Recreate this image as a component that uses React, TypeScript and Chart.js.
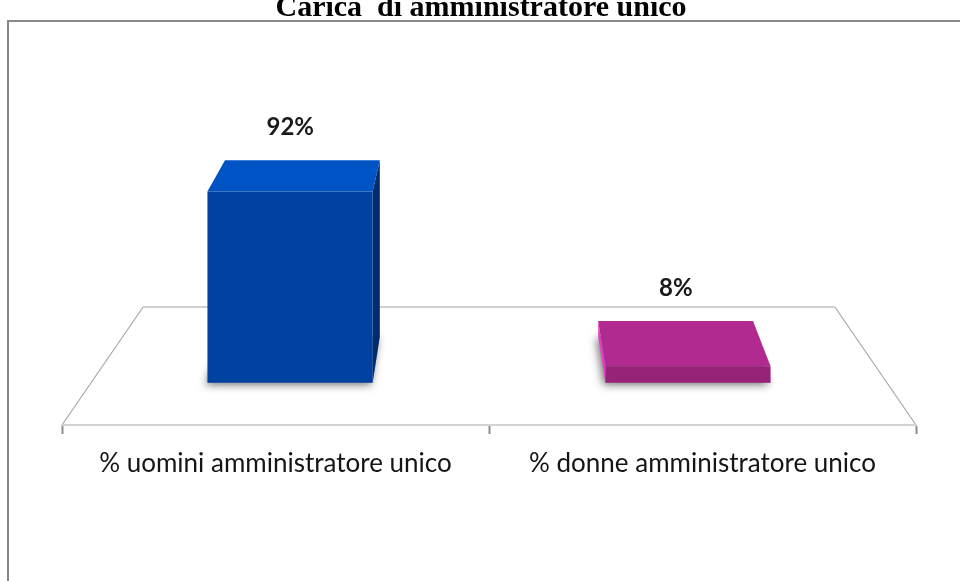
import React, { useEffect, useRef } from "react";
import { Chart, registerables } from "chart.js";

Chart.register(...registerables);

const TITLE = "Carica  di amministratore unico";
const CATEGORIES = ["% uomini amministratore unico", "% donne amministratore unico"];
const VALUES = [92, 8];
const VALUE_LABELS = ["92%", "8%"];
const FRONT_COLORS = ["#0041A2", "#962378"];
const TOP_COLORS = ["#0053C4", "#B02A90"];
const SIDE_COLORS = ["#002C6E", "#E63EC8"];

const FLOOR_BACK_Y = 307;
const FLOOR_BACK_SCALE = 0.81;
const BAR_FRONT_S = 0.932;
const BAR_BACK_SX = 0.874;
const BAR_BACK_SY = 0.857;

type Pt = [number, number];

function makeProj(chart: any) {
  const ca = chart.chartArea;
  const vx = (ca.left + ca.right) / 2;
  const fy = ca.bottom;
  const vy = (FLOOR_BACK_Y - fy * FLOOR_BACK_SCALE) / (1 - FLOOR_BACK_SCALE);
  return {
    vx,
    p: (x: number, y: number, sx: number, sy: number): Pt => [vx + (x - vx) * sx, vy + (y - vy) * sy],
  };
}

function poly(ctx: CanvasRenderingContext2D, pts: Pt[], fill: string) {
  ctx.beginPath();
  ctx.moveTo(pts[0][0], pts[0][1]);
  for (let i = 1; i < pts.length; i++) ctx.lineTo(pts[i][0], pts[i][1]);
  ctx.closePath();
  ctx.fillStyle = fill;
  ctx.fill();
}

const scene3d = {
  id: "scene3d",
  beforeDraw(chart: any) {
    const { ctx, chartArea: ca } = chart;
    ctx.save();
    ctx.fillStyle = "#ffffff";
    ctx.fillRect(0, 0, chart.width, chart.height);
    // title (partly cut by the top edge)
    ctx.font = "bold 30px 'Liberation Serif'";
    ctx.fillStyle = "#000000";
    ctx.textAlign = "center";
    ctx.textBaseline = "alphabetic";
    ctx.fillText(TITLE, 481, 16);
    // frame
    ctx.strokeStyle = "#888888";
    ctx.lineWidth = 2;
    ctx.beginPath();
    ctx.moveTo(8, chart.height + 4);
    ctx.lineTo(8, 21);
    ctx.lineTo(chart.width + 4, 21);
    ctx.stroke();
    // floor
    const { p } = makeProj(chart);
    const fy = ca.bottom;
    const bl = p(ca.left, fy, FLOOR_BACK_SCALE, FLOOR_BACK_SCALE);
    const br = p(ca.right, fy, FLOOR_BACK_SCALE, FLOOR_BACK_SCALE);
    ctx.strokeStyle = "#a8a8a8";
    ctx.lineWidth = 1.2;
    ctx.beginPath();
    ctx.moveTo(ca.left, fy);
    ctx.lineTo(bl[0], bl[1]);
    ctx.moveTo(ca.right, fy);
    ctx.lineTo(br[0], br[1]);
    ctx.stroke();
    ctx.strokeStyle = "#cfcfcf";
    ctx.lineWidth = 2;
    ctx.beginPath();
    ctx.moveTo(bl[0], bl[1]);
    ctx.lineTo(br[0], br[1]);
    ctx.stroke();
    ctx.restore();
  },
  afterDatasetsDraw(chart: any) {
    const { ctx } = chart;
    const { vx, p } = makeProj(chart);
    const meta = chart.getDatasetMeta(0);
    ctx.save();
    meta.data.forEach((el: any, i: number) => {
      const { x, y, base, width } = el.getProps(["x", "y", "base", "width"], true);
      const xl = x - width / 2;
      const xr = x + width / 2;
      const F = (a: number, b: number) => p(a, b, BAR_FRONT_S, BAR_FRONT_S);
      const B = (a: number, b: number) => p(a, b, BAR_BACK_SX, BAR_BACK_SY);
      // soft floor shadow
      ctx.save();
      ctx.shadowColor = "rgba(0,0,0,0.55)";
      ctx.shadowBlur = 9;
      ctx.shadowOffsetX = -2;
      ctx.shadowOffsetY = 2;
      poly(ctx, [F(xl, base), F(xr, base), B(xr, base), B(xl, base)], "#9a9a9a");
      ctx.restore();
      // side face
      if (xr < vx) {
        poly(ctx, [F(xr, y), B(xr, y), B(xr, base), F(xr, base)], SIDE_COLORS[i]);
      } else if (xl > vx) {
        poly(ctx, [F(xl, y), B(xl, y), B(xl, base), F(xl, base)], SIDE_COLORS[i]);
      }
      // top face
      poly(ctx, [F(xl, y), F(xr, y), B(xr, y), B(xl, y)], TOP_COLORS[i]);
      // front face
      poly(ctx, [F(xl, y), F(xr, y), F(xr, base), F(xl, base)], FRONT_COLORS[i]);
      // value label
      const tc = (F(xl, y)[0] + F(xr, y)[0] + B(xl, y)[0] + B(xr, y)[0]) / 4 - 6;
      const ty = B(xl, y)[1];
      ctx.font = "bold 24px Lato";
      ctx.fillStyle = "#1a1a1a";
      ctx.textAlign = "center";
      ctx.textBaseline = "middle";
      ctx.fillText(VALUE_LABELS[i], tc, ty - 33);
    });
    ctx.restore();
  },
};

export default function App() {
  const ref = useRef<HTMLCanvasElement>(null);
  useEffect(() => {
    if (!ref.current) return;
    const chart = new Chart(ref.current, {
      type: "bar",
      data: {
        labels: CATEGORIES,
        datasets: [
          {
            data: VALUES,
            backgroundColor: "rgba(0,0,0,0)",
            borderWidth: 0,
            barPercentage: 0.415,
            categoryPercentage: 1,
          },
        ],
      },
      options: {
        animation: false,
        responsive: false,
        devicePixelRatio: 1,
        layout: { padding: { left: 62, right: 44, top: 202, bottom: 0 } },
        plugins: {
          legend: { display: false },
          title: { display: false },
          tooltip: { enabled: false },
        },
        scales: {
          y: { display: false, min: 0, max: 100 },
          x: {
            afterFit: (s: any) => {
              s.height = 156;
            },
            grid: {
              display: true,
              drawOnChartArea: false,
              drawTicks: true,
              tickLength: 9,
              tickColor: "#8c8c8c",
              tickWidth: 2,
              offset: true,
            },
            border: { display: true, color: "#d2d2d2", width: 2 },
            ticks: {
              maxRotation: 0,
              autoSkip: false,
              padding: 14,
              color: "#151515",
              font: { family: "Lato", size: 26 },
            },
          },
        },
      },
      plugins: [scene3d],
    });
    return () => chart.destroy();
  }, []);
  return (
    <div style={{ position: "absolute", left: 0, top: 0, width: 960, height: 581 }}>
      <canvas ref={ref} width={960} height={581} style={{ display: "block" }} />
    </div>
  );
}
